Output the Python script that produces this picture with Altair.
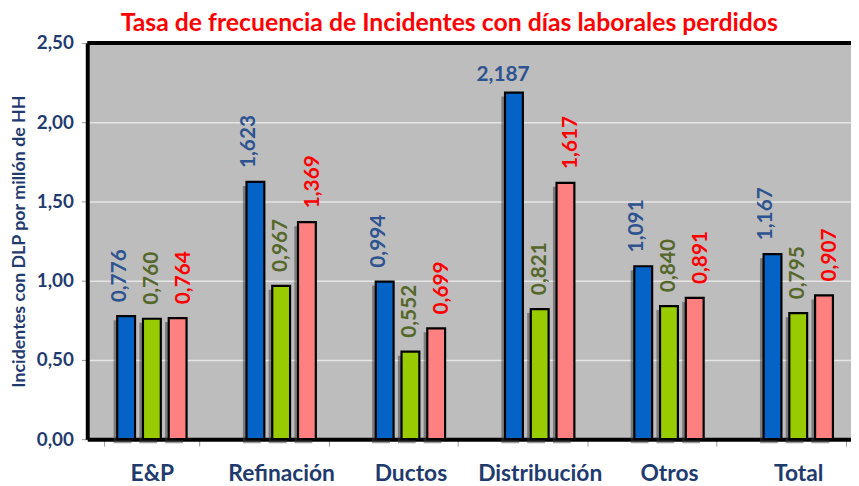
import altair as alt
import pandas as pd

categories = ["E&P", "Refinación", "Ductos", "Distribución", "Otros", "Total"]
series = ["A", "B", "C"]
values_a = [0.776, 1.623, 0.994, 2.187, 1.091, 1.167]
values_b = [0.760, 0.967, 0.552, 0.821, 0.840, 0.795]
values_c = [0.764, 1.369, 0.699, 1.617, 0.891, 0.907]

bar_colors = ["#0563C8", "#99CC00", "#FF8080"]
label_colors = ["#2E5490", "#55672A", "#FF0000"]
navy = "#1F3B6E"
FONT = "Lato"

rows = []
for s, vals in zip(series, [values_a, values_b, values_c]):
    for c, v in zip(categories, vals):
        rows.append({"cat": c, "serie": s, "val": v,
                     "lbl": f"{v:.3f}".replace(".", ",")})
df = pd.DataFrame(rows)

xscale = alt.Scale(domain=categories, range=[0, 783], paddingInner=0.2644, paddingOuter=0.1322)
xoff_scale = alt.Scale(domain=series, paddingInner=0.3077, paddingOuter=0.5)
xoff_shadow = alt.Scale(domain=series, paddingInner=0.3077, paddingOuter=0.5, align=0.36)
yscale = alt.Scale(domain=[0, 2.5], nice=False)
color_scale = alt.Scale(domain=series, range=bar_colors)
lcolor_scale = alt.Scale(domain=series, range=label_colors)

base = alt.Chart(df)

x_enc = alt.X("cat:N", scale=xscale, sort=categories, axis=alt.Axis(
    title=None, labelAngle=0, labelFont=FONT, labelFontSize=23, labelFontWeight="bold",
    labelColor=navy, domainColor="black", domainWidth=4, tickBand="extent",
    tickColor="#9a9a9a", tickSize=7, tickWidth=1, labelPadding=17, grid=False))
y_enc = alt.Y("val:Q", scale=yscale, axis=alt.Axis(
    title="Incidentes con DLP por millón de HH", values=[0, 0.5, 1, 1.5, 2, 2.5],
    labelExpr="replace(format(datum.value, '.2f'), '.', ',')",
    labelFont=FONT, labelFontSize=19, labelFontWeight="bold", labelColor=navy,
    titleFont=FONT, titleFontSize=18, titleFontWeight="bold", titleColor=navy,
    titlePadding=8, domainColor="black", domainWidth=4, tickColor="#9a9a9a",
    tickSize=6, labelPadding=8, gridColor="#e6e6e6", gridWidth=1.5))

xo = alt.XOffset("serie:N", scale=xoff_scale, sort=series)
x_plain = alt.X("cat:N", scale=xscale, sort=categories)
y_plain = alt.Y("val:Q", scale=yscale)

shadow = base.mark_bar(color="#3a3a3a", opacity=0.5, yOffset=4).encode(
    x=x_enc, y=y_enc,
    xOffset=alt.XOffset("serie:N", scale=xoff_shadow, sort=series))

bars = base.mark_bar(stroke="black", strokeWidth=2.2).encode(
    x=x_plain, y=y_plain, xOffset=xo,
    color=alt.Color("serie:N", scale=color_scale, legend=None))

labels_rot = base.transform_filter("datum.val < 2.1").mark_text(
    angle=270, align="left", baseline="middle", dx=14,
    font=FONT, fontSize=21, fontWeight="bold").encode(
    x=x_plain, y=y_plain, xOffset=xo, text="lbl:N",
    color=alt.Color("serie:N", scale=lcolor_scale, legend=None))

labels_flat = base.transform_filter("datum.val >= 2.1").mark_text(
    align="center", baseline="bottom", dy=-8, dx=-5,
    font=FONT, fontSize=21, fontWeight="bold").encode(
    x=x_plain, y=y_plain, xOffset=xo, text="lbl:N",
    color=alt.Color("serie:N", scale=lcolor_scale, legend=None))

top_line = alt.Chart(pd.DataFrame({"v": [2.5]})).mark_rule(
    color="black", strokeWidth=4).encode(y=alt.Y("v:Q", scale=yscale))

chart = alt.layer(shadow, bars, labels_rot, labels_flat, top_line).resolve_scale(
    color="independent", xOffset="independent").properties(
    width=771, height=400, background="white",
    autosize=alt.AutoSizeParams(type="none"),
    padding={"left": 80, "top": 33, "right": 0, "bottom": 45},
    title=alt.TitleParams(
        "Tasa de frecuencia de Incidentes con días laborales perdidos",
        font=FONT, fontSize=25, fontWeight="bold", color="#FF0000",
        anchor="middle", dx=-20, offset=-2),
).configure_view(fill="#BDBDBD", stroke=None)

chart.save("out.html", embed_options={"renderer": "svg", "actions": False})
